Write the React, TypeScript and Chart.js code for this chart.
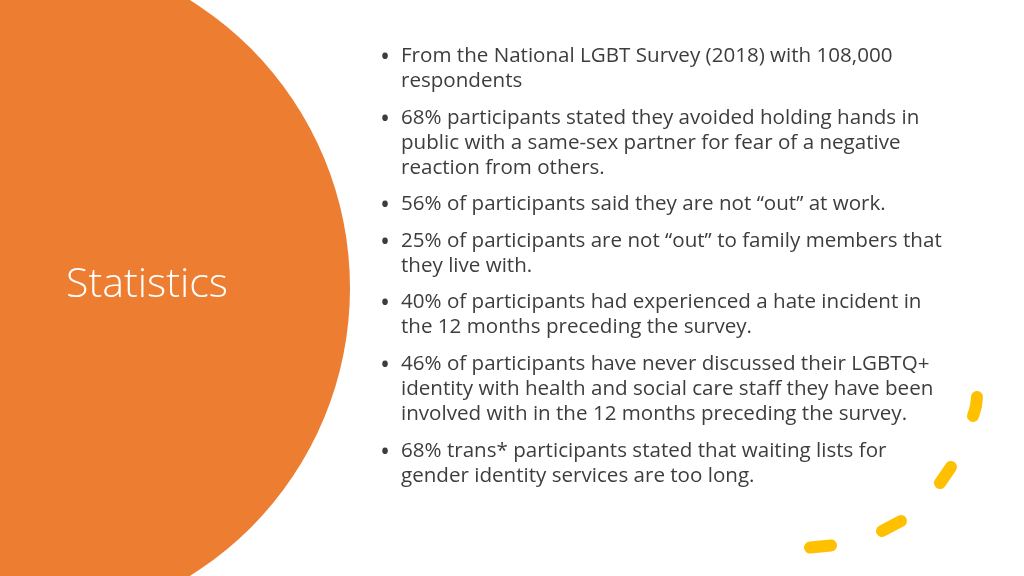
import { useEffect, useRef, useMemo } from "react";
import { Chart, registerables } from "chart.js";

Chart.register(...registerables);

const W = 1024;
const H = 576;
const ORANGE = "#ED7D31";
const GOLD = "#FFC000";
const TEXT = "#3d3d3d";

// Big orange circle (slide units: x 0..1024, y 0..576, r in px)
const circle = [{ x: 11, y: 288, r: 339 }];

// Yellow curved dashes (slide units)
const dash1 = [
  { x: 977, y: 397 },
  { x: 975.8, y: 406.5 },
  { x: 973, y: 416 },
];
const dash2 = [
  { x: 951, y: 467 },
  { x: 940, y: 483 },
];
const dash3 = [
  { x: 901, y: 521 },
  { x: 882, y: 531 },
];
const dash4 = [
  { x: 831, y: 545.5 },
  { x: 810, y: 547.5 },
];
const dashes = [dash1, dash2, dash3, dash4];

const title = "Statistics";

const bullets: string[][] = [
  ["From the National LGBT Survey (2018) with 108,000", "respondents"],
  [
    "68% participants stated they avoided holding hands in",
    "public with a same-sex partner for fear of a negative",
    "reaction from others.",
  ],
  ["56% of participants said they are not \u201cout\u201d at work."],
  [
    "25% of participants are not \u201cout\u201d to family members that",
    "they live with.",
  ],
  [
    "40% of participants had experienced a hate incident in",
    "the 12 months preceding the survey.",
  ],
  [
    "46% of participants have never discussed their LGBTQ+",
    "identity with health and social care staff they have been",
    "involved with in the 12 months preceding the survey.",
  ],
  [
    "68% trans* participants stated that waiting lists for",
    "gender identity services are too long.",
  ],
];

const BODY_FONT = '"Open Sans", "Noto Sans", sans-serif';
const FIRST_BASELINE = 62.5;
const LINE_GAP = 25;
const BULLET_GAP = 36.6;
const TEXT_X = 401;
const BULLET_X = 380;
const LINE1_WIDTH = 492;

const TITLE_X = 66;
const TITLE_BASELINE = 297;
const TITLE_WIDTH = 162;

function measure(text: string, font: string): number {
  const c = document.createElement("canvas");
  const ctx = c.getContext("2d");
  if (!ctx) return 0;
  ctx.font = font;
  return ctx.measureText(text).width;
}

function baselineOffsetFor(size: number, lineH: number): number {
  // Open Sans metrics: ascent 1.069, descent 0.293
  const asc = 1.069 * size;
  const desc = 0.293 * size;
  return (lineH - (asc + desc)) / 2 + asc;
}

export default function App() {
  const ref = useRef<HTMLCanvasElement>(null);

  const layout = useMemo(() => {
    const w = measure(bullets[0][0], `400 20px ${BODY_FONT}`);
    const fs = w > 0 ? (20 * LINE1_WIDTH) / w : 19;
    const tw = measure(title, `300 40px ${BODY_FONT}`);
    const tfs = tw > 0 ? (40 * TITLE_WIDTH) / tw : 39;
    return { fs, tfs };
  }, []);

  useEffect(() => {
    document.body.style.margin = "0";
    const chart = new Chart(ref.current!, {
      type: "bubble",
      data: {
        datasets: [
          ...dashes.map((d) => ({
            type: "line" as const,
            data: d,
            borderColor: GOLD,
            borderWidth: 12,
            borderCapStyle: "round" as const,
            borderJoinStyle: "round" as const,
            pointRadius: 0,
            pointHoverRadius: 0,
            tension: 0.4,
            fill: false,
            clip: false as any,
          })),
          {
            type: "bubble" as const,
            data: circle,
            backgroundColor: ORANGE,
            borderWidth: 0,
            hoverBorderWidth: 0,
            clip: false as any,
          },
        ],
      },
      options: {
        responsive: false,
        animation: false,
        events: [],
        layout: { padding: 0, autoPadding: false },
        plugins: { legend: { display: false }, tooltip: { enabled: false } },
        scales: {
          x: { type: "linear", min: 0, max: W, display: false },
          y: { type: "linear", min: 0, max: H, reverse: true, display: false },
        },
      },
    } as any);
    return () => chart.destroy();
  }, []);

  const fs = layout.fs;
  const baselineOffset = baselineOffsetFor(fs, LINE_GAP);
  const bfs = fs * 1.3;

  const lines: { text: string; baseline: number; bullet: boolean }[] = [];
  let b = FIRST_BASELINE;
  bullets.forEach((para, pi) => {
    if (pi > 0) b += BULLET_GAP;
    para.forEach((t, li) => {
      if (li > 0) b += LINE_GAP;
      lines.push({ text: t, baseline: b, bullet: li === 0 });
    });
  });

  const tfs = layout.tfs;
  const tLine = 60;
  const tOffset = baselineOffsetFor(tfs, tLine);

  return (
    <div
      style={{
        position: "fixed",
        left: 0,
        top: 0,
        width: W,
        height: H,
        background: "#ffffff",
        overflow: "hidden",
      }}
    >
      <canvas
        ref={ref}
        width={W}
        height={H}
        style={{ position: "absolute", left: 0, top: 0, width: W, height: H }}
      />
      <div
        style={{
          position: "absolute",
          left: TITLE_X,
          top: TITLE_BASELINE - tOffset,
          height: tLine,
          lineHeight: `${tLine}px`,
          fontFamily: BODY_FONT,
          fontWeight: 300,
          fontSize: tfs,
          color: "#ffffff",
          whiteSpace: "nowrap",
        }}
      >
        {title}
      </div>
      {lines.map((l, i) => (
        <div key={i}>
          {l.bullet && (
            <div
              style={{
                position: "absolute",
                left: BULLET_X,
                top: l.baseline - baselineOffset,
                height: LINE_GAP,
                lineHeight: `${LINE_GAP}px`,
                fontFamily: BODY_FONT,
                fontSize: fs,
                color: TEXT,
                whiteSpace: "nowrap",
              }}
            >
              <span style={{ fontSize: bfs, lineHeight: 0, verticalAlign: "-4px" }}>
                {"\u2022"}
              </span>
            </div>
          )}
          <div
            style={{
              position: "absolute",
              left: TEXT_X,
              top: l.baseline - baselineOffset,
              height: LINE_GAP,
              lineHeight: `${LINE_GAP}px`,
              fontFamily: BODY_FONT,
              fontSize: fs,
              color: TEXT,
              whiteSpace: "nowrap",
            }}
          >
            {l.text}
          </div>
        </div>
      ))}
    </div>
  );
}
